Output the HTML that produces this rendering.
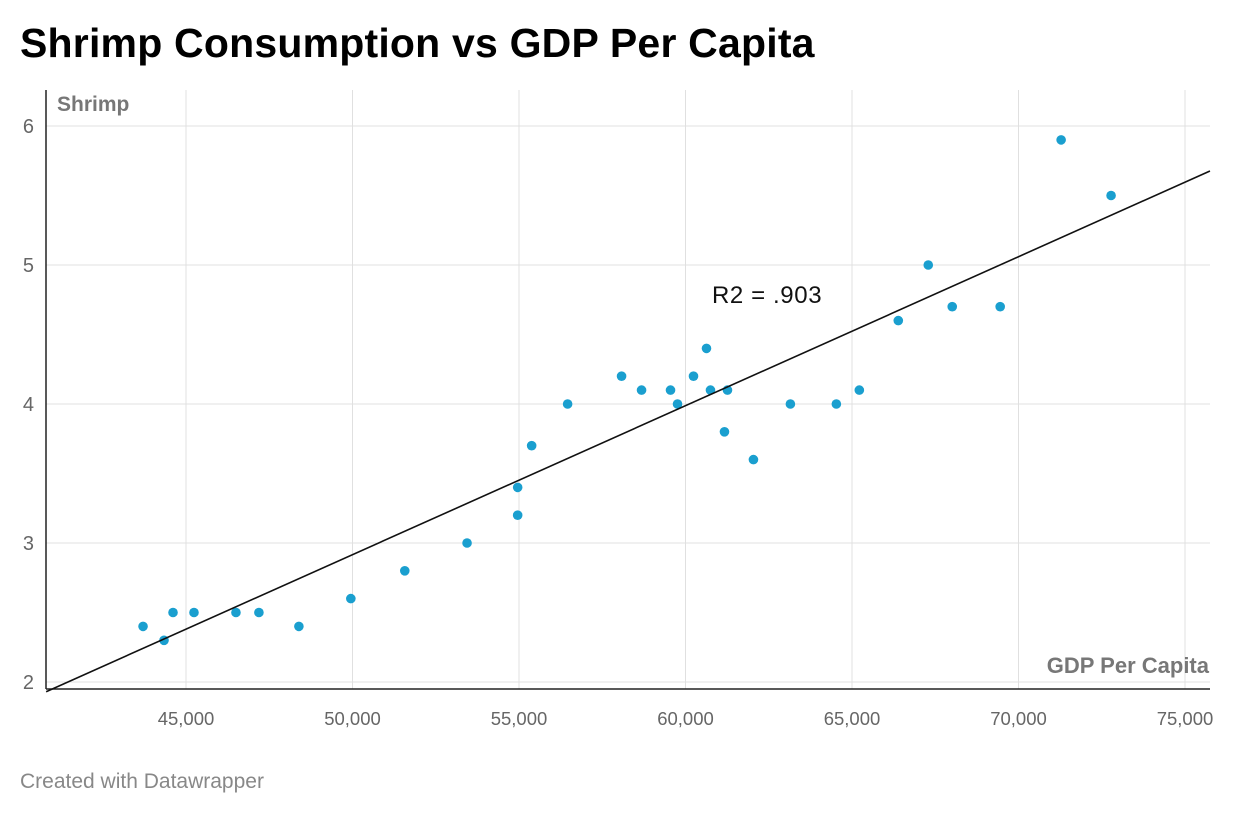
<!DOCTYPE html>
<html><head><meta charset="utf-8"><style>
body{margin:0;background:#fff;font-family:"Liberation Sans",sans-serif;}
#wrap{position:relative;width:1240px;height:816px;overflow:hidden;}
h1{position:absolute;left:20px;top:20px;margin:0;font-size:41px;font-weight:bold;color:#000;letter-spacing:0.2px;}
#foot{position:absolute;left:20px;top:770px;font-size:21px;color:#888;}
svg{position:absolute;left:0;top:0;}
</style></head><body>
<div id="wrap">
<h1>Shrimp Consumption vs GDP Per Capita</h1>
<svg id="chart" width="1240" height="816"></svg>
<div id="foot">Created with Datawrapper</div>
</div>
<script>
const gdp=[43710,44340,44610,45240,46500,47190,48390,49950,51570,53440,54960,54960,55380,56460,58080,58680,59550,59760,60240,60630,60750,61260,61170,62040,63150,64530,65220,66390,67290,68010,69450,71280,72780];
const shrimp=[2.4,2.3,2.5,2.5,2.5,2.5,2.4,2.6,2.8,3.0,3.2,3.4,3.7,4.0,4.2,4.1,4.1,4.0,4.2,4.4,4.1,4.1,3.8,3.6,4.0,4.0,4.1,4.6,5.0,4.7,4.7,5.9,5.5];
const xTicks=[45000,50000,55000,60000,65000,70000,75000];
const yTicks=[2,3,4,5,6];
const trendX=[40800,75750];
const trendY=[1.93,5.676];
const NS="http://www.w3.org/2000/svg";
const svg=document.getElementById('chart');
const L=46,R=1210,T=90,B=689;
function sx(v){return 186+(v-45000)/5000*166.5;}
function sy(v){return 682-(v-2)*139;}
function mk(t,a){const e=document.createElementNS(NS,t);for(const k in a)e.setAttribute(k,a[k]);svg.appendChild(e);return e;}
xTicks.forEach(t=>{
const g=mk('line',{x1:sx(t),x2:sx(t),y1:T,y2:B,stroke:'#e0e0e0','stroke-width':1});


const tx=mk('text',{x:sx(t),y:725,'text-anchor':'middle','font-size':18.5,fill:'#666'});
tx.textContent=t.toLocaleString('en-US');


});
yTicks.forEach(t=>{
const g=mk('line',{x1:L,x2:R,y1:sy(t),y2:sy(t),stroke:'#e0e0e0','stroke-width':1});


const tx=mk('text',{x:34,y:sy(t)+7,'text-anchor':'end','font-size':20,fill:'#666'});
tx.textContent=t;


});
const ax=mk('line',{x1:L,x2:R,y1:B,y2:B,stroke:'#222','stroke-width':1.5});


const ay=mk('line',{x1:L,x2:L,y1:T,y2:B,stroke:'#222','stroke-width':1.5});


const yt=mk('text',{x:57,y:111,'font-size':21,'font-weight':'bold',fill:'#777'});
yt.textContent='Shrimp';


const xt=mk('text',{x:1209,y:673,'text-anchor':'end','font-size':22,'font-weight':'bold',fill:'#777'});
xt.textContent='GDP Per Capita';


gdp.forEach((v,i)=>{
const c=mk('circle',{cx:sx(v),cy:sy(shrimp[i]),r:4.8,fill:'#1a9fcf'});


});
const tl=mk('line',{x1:sx(trendX[0]),y1:sy(trendY[0]),x2:sx(trendX[1]),y2:sy(trendY[1]),stroke:'#111','stroke-width':1.6});


const r2=mk('text',{x:712,y:303,'font-size':24,fill:'#111','letter-spacing':0.6});
r2.textContent='R2 = .903';


</script>
</body></html>
